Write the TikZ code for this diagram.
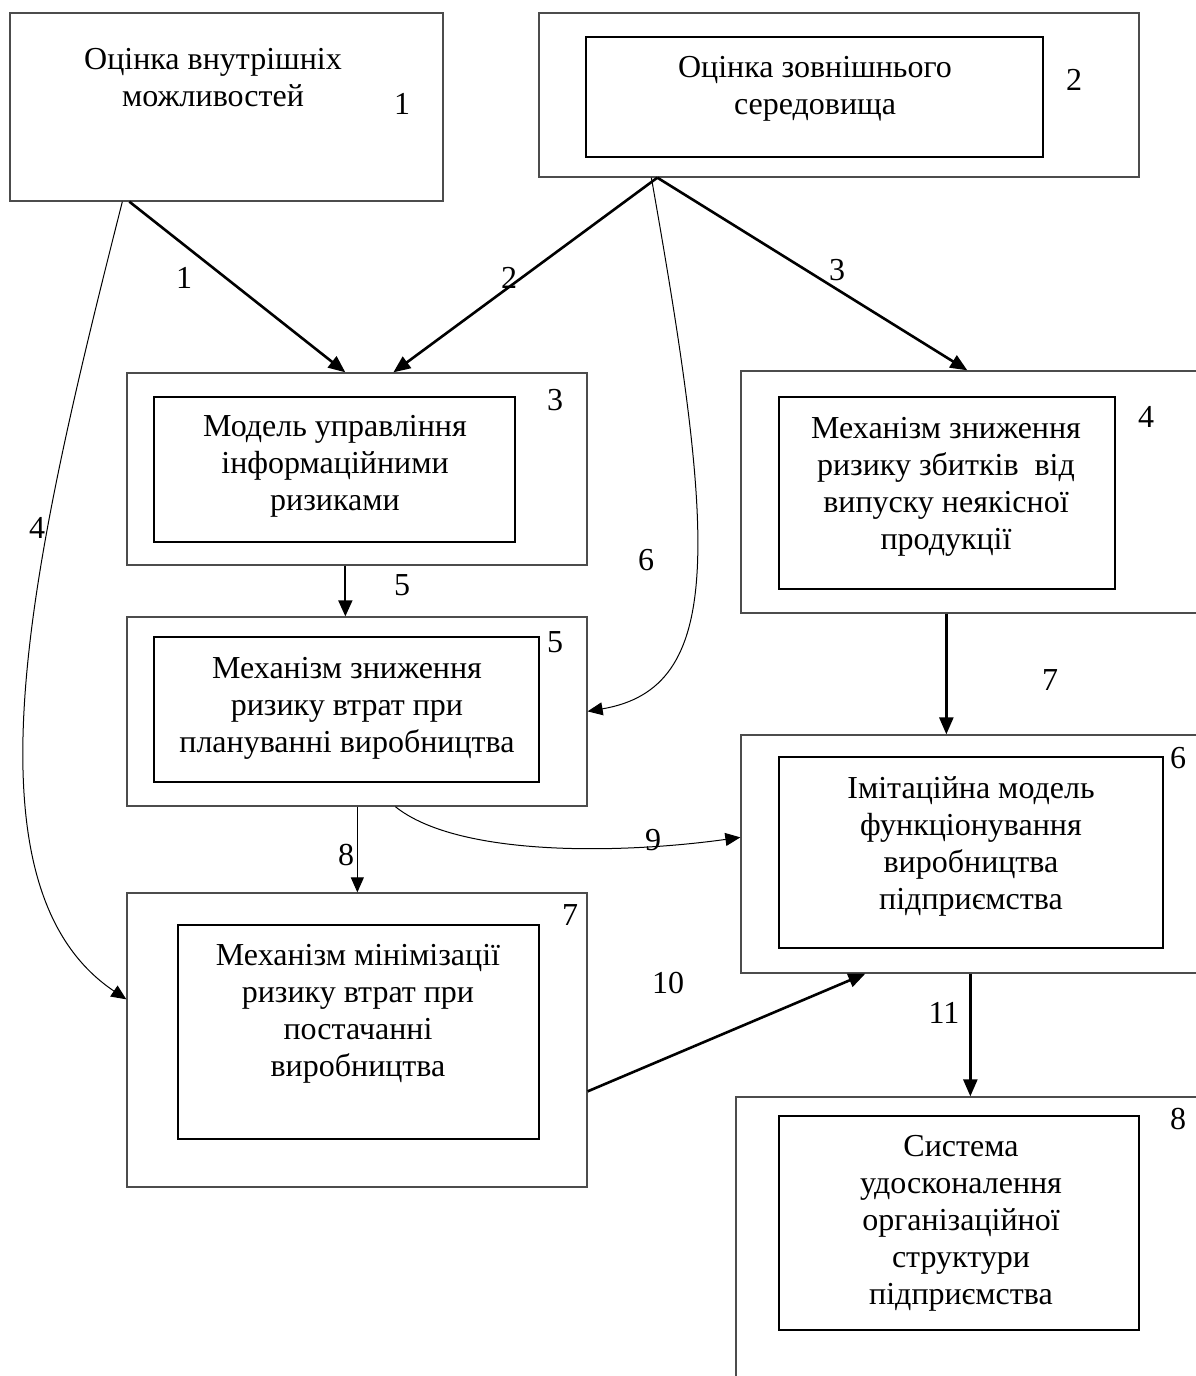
\documentclass[tikz,border=0pt]{standalone}
\usepackage{fontspec}
\setmainfont{Liberation Serif}
\usetikzlibrary{arrows.meta}

\begin{document}
\begin{tikzpicture}
  [x=1pt,y=-1pt,
   every node/.style={font=\fontsize{32}{37}\selectfont},
   outerbox/.style={draw=black!70,line width=1.3pt,inner sep=0pt},
   innerbox/.style={draw,line width=2.5pt,inner sep=0pt},
   txt/.style={align=center,inner sep=0pt},
   num/.style={inner sep=0pt},
   arr/.style={line width=2.6pt,-{Triangle[length=17pt,width=14pt]}},
   midarr/.style={line width=1.8pt,-{Triangle[length=16pt,width=14pt]}},
   thinarr/.style={line width=1pt,-{Triangle[length=15pt,width=13pt]}}]
  \useasboundingbox (0,0) rectangle (1196,1376);
  \clip (0,0) rectangle (1196,1376);

  % outer frames
  \node[outerbox,minimum width=433pt,minimum height=188pt] (b1) at (226.5,107) {};
  \node[outerbox,minimum width=600pt,minimum height=164pt] (b2) at (839,95) {};
  \node[outerbox,minimum width=460pt,minimum height=192pt] (b3) at (357,469) {};
  \node[outerbox,minimum width=499pt,minimum height=242pt] (b4) at (990.5,492) {};
  \node[outerbox,minimum width=460pt,minimum height=189pt] (b5) at (357,711.5) {};
  \node[outerbox,minimum width=499pt,minimum height=238pt] (b6) at (990.5,854) {};
  \node[outerbox,minimum width=460pt,minimum height=294pt] (b7) at (357,1040) {};
  \node[outerbox,minimum width=504pt,minimum height=343pt] (b8) at (988,1268.5) {};

  % inner frames
  \node[innerbox,minimum width=457pt,minimum height=120pt] (i2) at (814.5,97) {};
  \node[innerbox,minimum width=361pt,minimum height=145pt] (i3) at (334.5,469.5) {};
  \node[innerbox,minimum width=336pt,minimum height=192pt] (i4) at (947,493) {};
  \node[innerbox,minimum width=385pt,minimum height=145pt] (i5) at (346.5,709.5) {};
  \node[innerbox,minimum width=384pt,minimum height=191pt] (i6) at (971,852.5) {};
  \node[innerbox,minimum width=361pt,minimum height=214pt] (i7) at (358.5,1032) {};
  \node[innerbox,minimum width=360pt,minimum height=214pt] (i8) at (959,1223) {};

  % texts
  \node[txt] (t1) at (213,78) {Оцінка внутрішніх\\можливостей};
  \node[txt] (t2) at (815,89) {Оцінка зовнішнього\\середовища};
  \node[txt] (t3) at (335,466) {Модель управління\\інформаційними\\ризиками};
  \node[txt] (t4) at (946,487) {Механізм зниження\\ризику збитків\ \ від\\випуску неякісної\\продукції};
  \node[txt] (t5) at (347,708) {Механізм зниження\\ризику втрат при\\плануванні виробництва};
  \node[txt] (t6) at (971,846) {Імітаційна модель\\функціонування\\виробництва\\підприємства};
  \node[txt] (t7) at (358,1014) {Механізм мінімізації\\ризику втрат при\\постачанні\\виробництва};
  \node[txt] (t8) at (961,1223) {Система\\удосконалення\\організаційної\\структури\\підприємства};

  % box numbers
  \node[num] (n1) at (402,104) {1};
  \node[num] (n2) at (1074,80) {2};
  \node[num] (n3) at (555,400) {3};
  \node[num] (n4) at (1146,417) {4};
  \node[num] (n5) at (555,642) {5};
  \node[num] (n6) at (1178,758) {6};
  \node[num] (n7) at (570,915) {7};
  \node[num] (n8) at (1178,1119) {8};

  % connectors
  \draw[arr] ([xshift=120pt]b1.south west) -- ([xshift=219pt]b3.north west);
  \draw[arr] ([xshift=119pt]b2.south west) -- ([xshift=267pt]b3.north west);
  \draw[arr] ([xshift=119pt]b2.south west) -- ([xshift=227pt]b4.north west);
  \draw[thinarr] ([xshift=113pt]b1.south west)
    .. controls (33,554) and (-44,885) .. ([yshift=-107pt]b7.north west);
  \draw[midarr] ([xshift=219pt]b3.south west) -- ([xshift=219pt]b5.north west);
  \draw[thinarr] ([xshift=113pt]b2.south west)
    .. controls (716,543) and (725,688) .. ([yshift=-95pt]b5.north east);
  \draw[arr] ([xshift=206pt]b4.south west) -- ([xshift=206pt]b6.north west);
  \draw[thinarr] ([xshift=231pt]b5.south west) -- ([xshift=231pt]b7.north west);
  \draw[thinarr] ([xshift=269pt]b5.south west)
    .. controls (458,857) and (621,854) .. ([yshift=-103pt]b6.north west);
  \draw[arr] ([yshift=-199pt]b7.north east) -- ([xshift=125pt]b6.south west);
  \draw[arr] ([xshift=230pt]b6.south west) -- ([xshift=235pt]b8.north west);

  % connector labels
  \node[num] (e1) at (184,278) {1};
  \node[num] (e2) at (509,278) {2};
  \node[num] (e3) at (837,270) {3};
  \node[num] (e4) at (37,528) {4};
  \node[num] (e5) at (402,585) {5};
  \node[num] (e6) at (646,560) {6};
  \node[num] (e7) at (1050,680) {7};
  \node[num] (e8) at (346,855) {8};
  \node[num] (e9) at (653,840) {9};
  \node[num] (e10) at (668,983) {10};
  \node[num] (e11) at (944,1013) {11};

\end{tikzpicture}
\end{document}
